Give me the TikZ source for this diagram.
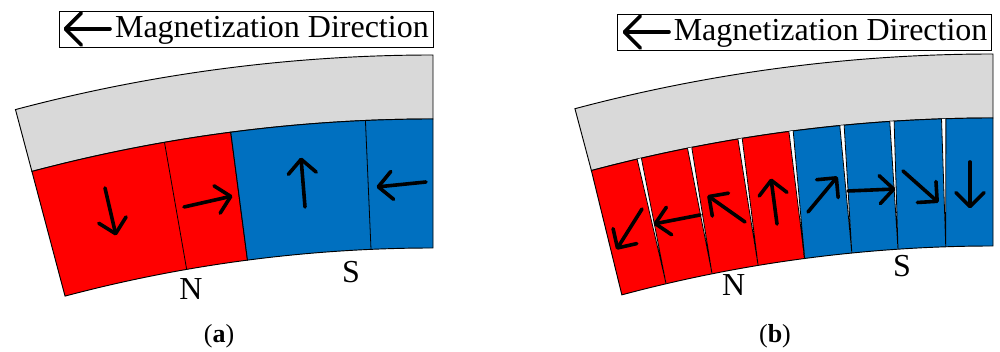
\documentclass[tikz,border=0pt]{standalone}
\usepackage{fontspec}
\setmainfont{Liberation Serif}
\usetikzlibrary{arrows.meta}
\definecolor{yokegray}{HTML}{D9D9D9}
\definecolor{southblue}{HTML}{0070C0}

\begin{document}
\begin{tikzpicture}[x=0.75pt, y=0.75pt,
legendbox/.style={rectangle, draw=black, line width=0.6pt, minimum width=280.5pt, minimum height=27pt, inner sep=0pt},
legendtext/.style={anchor=base east, inner sep=0pt, font=\fontsize{24}{26}\selectfont},
poletext/.style={anchor=base, inner sep=0pt, font=\fontsize{24}{26}\selectfont},
captext/.style={anchor=base, inner sep=0pt, font=\fontsize{19.5}{22}\selectfont},
yoke/.style={draw=black, line width=0.7pt, fill=yokegray},
northpole/.style={draw=black, line width=0.7pt, fill=red},
southpole/.style={draw=black, line width=0.7pt, fill=southblue},
divider/.style={draw=black, line width=0.6pt},
gapline/.style={draw=black, line width=0.6pt, fill=white},
magarrow/.style={line width=2.7pt, line cap=round, -{Straight Barb[length=10.5pt, width=21pt, round]}},
legendarrow/.style={magarrow, -{Straight Barb[length=12pt, width=24pt, round]}},
]
\useasboundingbox (0,0) rectangle (1000,352);

%Nodes
\node[legendbox]   (LegendA)  at (246,323)     {};
\node[legendtext]  (DirA)     at (429,314.3)   {Magnetization Direction};
\node[poletext]    (NorthA)   at (191,52)      {N};
\node[poletext]    (SouthA)   at (351,69.3)    {S};
\node[captext]     (CapA)     at (219,9)       {(\textbf{a})};
\node[legendbox]   (LegendB)  at (804.5,319.5) {};
\node[legendtext]  (DirB)     at (987.7,311.3) {Magnetization Direction};
\node[poletext]    (NorthB)   at (733.7,56)    {N};
\node[poletext]    (SouthB)   at (902,75)      {S};
\node[captext]     (CapB)     at (775,9.5)     {(\textbf{b})};

%Panel a
\begin{scope}[shift={(433,-1329)}]
\draw[yoke] (90:1626) arc[start angle=90, end angle=104.88, radius=1626] -- (104.88:1562) arc[start angle=104.88, end angle=90, radius=1562] -- cycle;
\draw[northpole] (97.44:1562) arc[start angle=97.44, end angle=104.88, radius=1562] -- (104.88:1433) arc[start angle=104.88, end angle=97.44, radius=1433] -- cycle;
\draw[southpole] (90:1562) arc[start angle=90, end angle=97.44, radius=1562] -- (97.44:1433) arc[start angle=97.44, end angle=90, radius=1433] -- cycle;
\draw[divider] (99.9:1562) -- (99.9:1433);
\draw[divider] (92.48:1562) -- (92.48:1433);
\end{scope}

%Panel b
\begin{scope}[shift={(993,-1328)}]
\draw[yoke] (90:1626) arc[start angle=90, end angle=104.9, radius=1626] -- (104.9:1562) arc[start angle=104.9, end angle=90, radius=1562] -- cycle;
\draw[northpole] (97.43:1562) arc[start angle=97.43, end angle=104.9, radius=1562] -- (105:1434) arc[start angle=105, end angle=97.55, radius=1434] -- cycle;
\draw[southpole] (90:1562) arc[start angle=90, end angle=97.43, radius=1562] -- (97.55:1434) arc[start angle=97.55, end angle=90, radius=1434] -- cycle;
\draw[gapline] (91.73:1562) -- (91.89:1434) -- (91.89:1562);
\draw[gapline] (93.63:1562) -- (93.8:1434) -- (93.79:1562);
\draw[gapline] (95.47:1562) -- (95.65:1434) -- (95.63:1562);
\draw[gapline] (97.35:1562) -- (97.55:1434) -- (97.51:1562);
\draw[gapline] (99.24:1562) -- (99.43:1434) -- (99.4:1562);
\draw[gapline] (101.12:1562) -- (101.3:1434) -- (101.28:1562);
\draw[gapline] (103.01:1562) -- (103.18:1434) -- (103.17:1562);
\end{scope}

%Lines
\draw[legendarrow] (110,323) -- (63.5,323);
\draw[magarrow] (105,164) -- (116,116.5);
\draw[magarrow] (184,145) -- (232.5,156);
\draw[magarrow] (305,145) -- (301,194.5);
\draw[magarrow] (426,170) -- (376.5,165);
\draw[legendarrow] (669,320) -- (622.5,320);
\draw[magarrow] (642,143) -- (616.5,102.5);
\draw[magarrow] (700,137) -- (653.5,128);
\draw[magarrow] (745,130) -- (707.5,156.5);
\draw[magarrow] (777,128) -- (771,173.5);
\draw[magarrow] (808,140) -- (837.5,175.5);
\draw[magarrow] (848,161) -- (895.5,163);
\draw[magarrow] (903,181) -- (938.5,149.5);
\draw[magarrow] (970,190) -- (970,143.5);

\end{tikzpicture}
\end{document}
